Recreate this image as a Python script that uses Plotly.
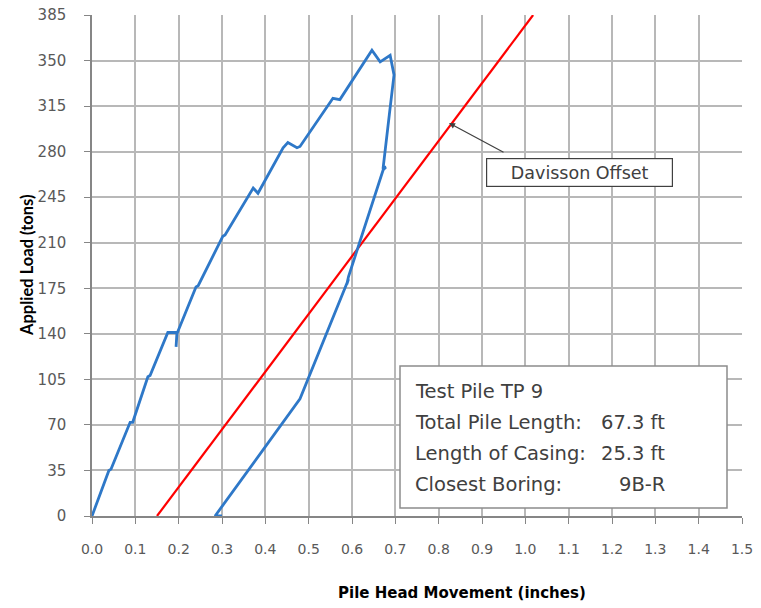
import plotly.graph_objects as go

# Load test curve (blue): pile head movement (in) vs applied load (tons)
movement = [0.000, 0.039, 0.044, 0.088, 0.094, 0.129, 0.134, 0.175, 0.196, 0.194, 0.196,
            0.240, 0.245, 0.302, 0.307, 0.372, 0.383, 0.441, 0.452, 0.473, 0.480,
            0.556, 0.572, 0.646, 0.665, 0.688, 0.697, 0.686, 0.672, 0.678, 0.672,
            0.592, 0.588, 0.592, 0.480, 0.284, 0.300]
load = [0, 35, 36, 72, 72, 107, 108, 141, 141, 130, 140,
        176, 177, 215, 216, 252, 248, 283, 287, 283, 284,
        321, 320, 358, 349, 354, 339, 308, 268, 268, 266,
        184, 178, 182, 90, 0, 0]

# Davisson offset line (red)
davisson_x = [0.150, 1.018]
davisson_y = [0, 385]

x_ticks = [round(i * 0.1, 1) for i in range(16)]
y_ticks = [i * 35 for i in range(12)]

info_labels = ["Test Pile TP 9", "Total Pile Length:", "Length of Casing:", "Closest Boring:"]
info_values = ["", "67.3 ft", "25.3 ft", "9B-R"]

WIDE = "DejaVu Sans"
TXT = "#404040"

fig = go.Figure()
fig.add_trace(go.Scatter(x=davisson_x, y=davisson_y, mode="lines",
                         line=dict(color="#FF0000", width=2.2), showlegend=False,
                         hoverinfo="skip"))
fig.add_trace(go.Scatter(x=movement, y=load, mode="lines",
                         line=dict(color="#2E78C8", width=2.8), showlegend=False))

fig.update_xaxes(range=[0, 1.5], tickvals=x_ticks, ticktext=[f"{v:.1f}" for v in x_ticks],
                 showgrid=True, gridcolor="#b8b8b8", gridwidth=1.5,
                 showline=True, linecolor="#868686", linewidth=1.5,
                 ticks="outside", ticklen=6, tickcolor="#868686", tickwidth=1,
                 tickfont=dict(family=WIDE, size=14, color="#595959"),
                 ticklabelstandoff=13, zeroline=False, fixedrange=True, automargin=False)
fig.update_yaxes(range=[0, 385], tickvals=y_ticks,
                 showgrid=True, gridcolor="#b8b8b8", gridwidth=1.5,
                 showline=True, linecolor="#868686", linewidth=1.5,
                 ticks="outside", ticklen=6, tickcolor="#868686", tickwidth=1,
                 tickfont=dict(family=WIDE, size=15, color="#595959"),
                 ticklabelstandoff=15, zeroline=False, fixedrange=True, automargin=False)

def px_x(p):
    return (p - 92) / 650.0

def px_y(p):
    return (516 - p) / 501.0

annotations = [
    dict(text="<b>Applied Load (tons)</b>", xref="paper", yref="paper",
         x=px_x(27), y=px_y(265), xanchor="center", yanchor="middle",
         textangle=-90, showarrow=False,
         font=dict(family="Lato", size=16.5, color="#000000")),
    dict(text="<b>Pile Head Movement (inches)</b>", xref="paper", yref="paper",
         x=px_x(462), y=px_y(593), xanchor="center", yanchor="middle", showarrow=False,
         font=dict(family=WIDE, size=15, color="#000000")),
    # arrow to offset line
    dict(text="", xref="paper", yref="paper", x=px_x(449), y=px_y(123),
         axref="pixel", ayref="pixel", ax=505 - 449, ay=153 - 123,
         showarrow=True, arrowhead=2, arrowsize=1, arrowwidth=1.2, arrowcolor="#404040"),
    dict(text="Davisson Offset", xref="paper", yref="paper", x=px_x(579.5), y=px_y(172.5),
         xanchor="center", yanchor="middle",
         showarrow=False, width=183, height=25, bgcolor="white",
         bordercolor="#404040", borderwidth=1.2, borderpad=1,
         font=dict(family=WIDE, size=17.5, color=TXT)),
]

line_y = [391, 422, 453, 484]
for lab, val, py in zip(info_labels, info_values, line_y):
    annotations.append(dict(text=lab, xref="paper", yref="paper", x=px_x(413), y=px_y(py),
                            xanchor="left", yanchor="middle", showarrow=False,
                            font=dict(family=WIDE, size=19.5, color=TXT)))
    if val:
        annotations.append(dict(text=val, xref="paper", yref="paper", x=px_x(667), y=px_y(py),
                                xanchor="right", yanchor="middle", showarrow=False,
                                font=dict(family=WIDE, size=19.5, color=TXT)))

shapes = [dict(type="rect", xref="paper", yref="paper",
               x0=px_x(400), x1=px_x(727), y0=px_y(508), y1=px_y(366),
               fillcolor="white", line=dict(color="#8c8c8c", width=1.5), layer="above")]

fig.update_layout(width=761, height=608,
                  margin=dict(l=92, r=19, t=15, b=92),
                  paper_bgcolor="white", plot_bgcolor="white",
                  annotations=annotations, shapes=shapes,
                  font=dict(family=WIDE))

fig.write_html("out.html", config={"displayModeBar": False},
               post_script="document.body.style.margin='0px';document.body.style.overflow='hidden';")
